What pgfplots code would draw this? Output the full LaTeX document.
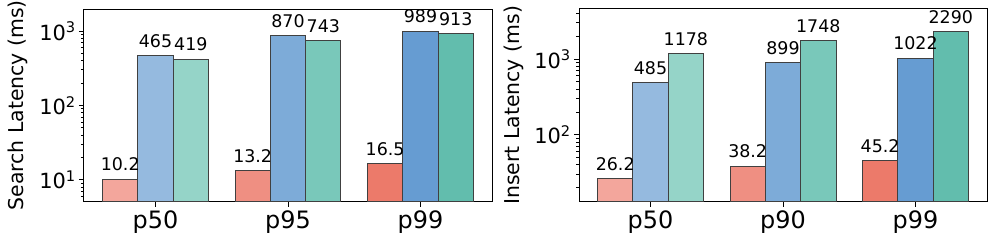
\documentclass[border=0pt]{standalone}
\usepackage{fontspec}
\setmainfont{DejaVu Sans}
\usepackage{pgfplots}
\pgfplotsset{compat=1.18}
\definecolor{r1}{HTML}{F3A69C}
\definecolor{r2}{HTML}{EF8F82}
\definecolor{r3}{HTML}{EC7A6A}
\definecolor{b1}{HTML}{95BADF}
\definecolor{b2}{HTML}{7DABD8}
\definecolor{b3}{HTML}{669CD2}
\definecolor{t1}{HTML}{95D4C8}
\definecolor{t2}{HTML}{79C8BA}
\definecolor{t3}{HTML}{62BDAD}
\pgfplotsset{
  mystyle/.style={
    scale only axis, width=408bp, height=192.7bp,
    xmin=-0.54, xmax=2.54,
    xtick={0,1,2},
    axis line style={line width=1bp, black},
    tick style={line width=1bp, black},
    tick align=outside, xtick pos=bottom, ytick pos=left,
    major tick length=5bp, minor tick length=3bp,
    xticklabel style={font=\fontsize{24}{24}\selectfont, anchor=north, inner sep=0pt, yshift=-4bp},
    yticklabel style={font=\fontsize{21}{21}\selectfont, inner sep=0pt, xshift=-3bp},
    ylabel style={font=\fontsize{20.5}{20.5}\selectfont, inner sep=0pt, anchor=center, at={(axis description cs:0,0.5)}},
    bar shift=0pt, bar width=0.2667,
    every axis plot/.append style={draw=black!75, line width=1bp},
    point meta=explicit symbolic, nodes near coords,
    nodes near coords style={font=\fontsize{17.5}{17.5}\selectfont, anchor=base, inner sep=0pt, yshift=8.5bp, text=black},
  }
}
\begin{document}
\begin{tikzpicture}
\path[use as bounding box] (-84bp,-42.3bp) rectangle (912bp,201.7bp);
\begin{axis}[ymode=log, log origin=infty, ybar, mystyle, at={(0bp,0bp)}, anchor=south west,
  ymin=5.1, ymax=1978,
  ytick={10,100,1000}, yticklabels={10\textsuperscript{1},10\textsuperscript{2},10\textsuperscript{3}},
  minor ytick={6,7,8,9,20,30,40,50,60,70,80,90,200,300,400,500,600,700,800,900},
  xticklabels={p50,p95,p99},
  ylabel={Search Latency (ms)},
  ylabel style={yshift=66.3bp}]
\addplot[fill=r1] coordinates {(-0.2667,10.2) [10.2]};
\addplot[fill=b1] coordinates {(0,465) [465]};
\addplot[fill=t1] coordinates {(0.2667,419) [419]};
\addplot[fill=r2] coordinates {(0.7333,13.2) [13.2]};
\addplot[fill=b2] coordinates {(1,870) [870]};
\addplot[fill=t2] coordinates {(1.2667,743) [743]};
\addplot[fill=r3] coordinates {(1.7333,16.5) [16.5]};
\addplot[fill=b3] coordinates {(2,989) [989]};
\addplot[fill=t3] coordinates {(2.2667,913) [913]};
\end{axis}
\begin{axis}[ymode=log, log origin=infty, ybar, mystyle, at={(495bp,0bp)}, anchor=south west,
  ymin=13.1, ymax=4580,
  ytick={100,1000}, yticklabels={10\textsuperscript{2},10\textsuperscript{3}},
  minor ytick={20,30,40,50,60,70,80,90,200,300,400,500,600,700,800,900,2000,3000,4000},
  xticklabels={p50,p90,p99},
  ylabel={Insert Latency (ms)},
  ylabel style={yshift=65bp}]
\addplot[fill=r1] coordinates {(-0.2667,26.2) [26.2]};
\addplot[fill=b1] coordinates {(0,485) [485]};
\addplot[fill=t1] coordinates {(0.2667,1178) [1178]};
\addplot[fill=r2] coordinates {(0.7333,38.2) [38.2]};
\addplot[fill=b2] coordinates {(1,899) [899]};
\addplot[fill=t2] coordinates {(1.2667,1748) [1748]};
\addplot[fill=r3] coordinates {(1.7333,45.2) [45.2]};
\addplot[fill=b3] coordinates {(2,1022) [1022]};
\addplot[fill=t3] coordinates {(2.2667,2290) [2290]};
\end{axis}
\end{tikzpicture}
\end{document}
